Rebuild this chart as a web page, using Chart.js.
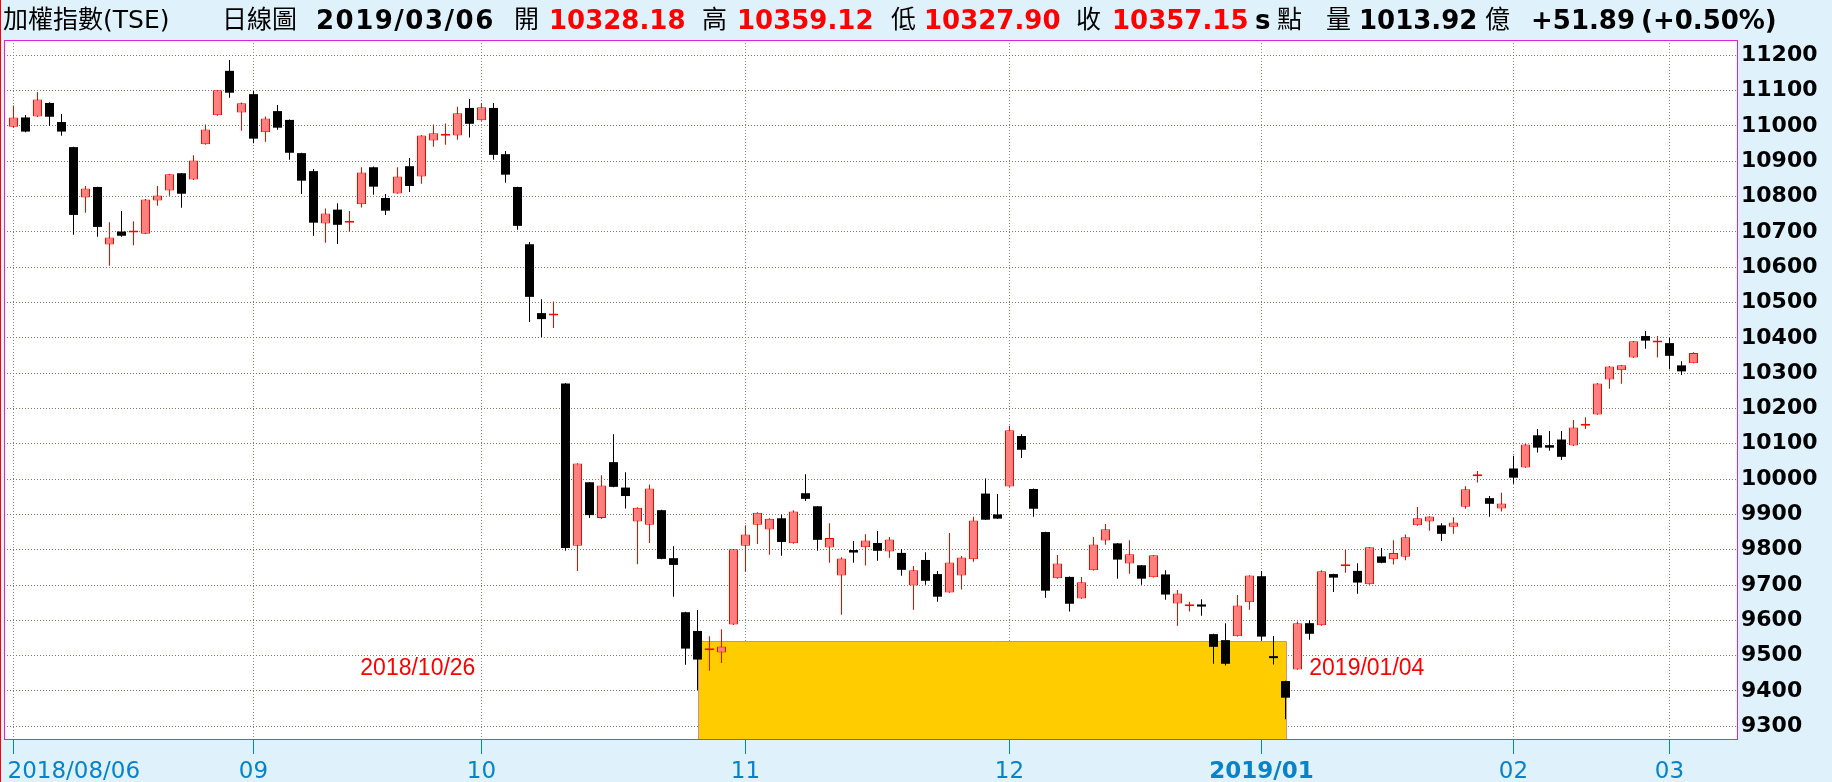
<!DOCTYPE html>
<html>
<head>
<meta charset="utf-8">
<script src="https://cdn.jsdelivr.net/npm/chart.js@4.4.0/dist/chart.umd.min.js"></script>
<style>
  body { margin: 0; background: #dff1fb; width: 1832px; height: 782px; overflow: hidden; position: relative; }
  #chart-container { position: absolute; left: 0; top: 0; }
  #redline { position: absolute; left: 0; top: 0; width: 1px; height: 782px; background: #ff0000; }
  .hd { position: absolute; top: 0; line-height: 40px; white-space: nowrap; color: #000;
        font-family: "DejaVu Sans", "Noto Sans CJK TC", sans-serif; }
  .cj { font-size: 25px; }
  .num { font-size: 26px; font-weight: bold; }
  .red { color: #ff0000; }
</style>
</head>
<body>
<div id="chart-container"><canvas id="myChart" width="1832" height="782"></canvas></div>
<div id="redline"></div>
<div id="header">
  <span class="hd cj" style="left:3px">加權指數(TSE)</span>
  <span class="hd cj" style="left:222px">日線圖</span>
  <span class="hd num" style="left:316px; letter-spacing:1.5px">2019/03/06</span>
  <span class="hd cj" style="left:514px">開</span>
  <span class="hd num red" style="left:549px">10328.18</span>
  <span class="hd cj" style="left:702px">高</span>
  <span class="hd num red" style="left:737px">10359.12</span>
  <span class="hd cj" style="left:891px">低</span>
  <span class="hd num red" style="left:924px">10327.90</span>
  <span class="hd cj" style="left:1076px">收</span>
  <span class="hd num red" style="left:1112px">10357.15</span>
  <span class="hd num" style="left:1255px">s</span>
  <span class="hd cj" style="left:1277px">點</span>
  <span class="hd cj" style="left:1326px">量</span>
  <span class="hd num" style="left:1359px">1013.92</span>
  <span class="hd cj" style="left:1485px">億</span>
  <span class="hd num" style="left:1531px">+51.89</span>
  <span class="hd num" style="left:1641px">(+0.50%)</span>
</div>

<script>
// trading days shown on the chart
const dates = [
  '2018/08/06','2018/08/07','2018/08/08','2018/08/09','2018/08/10','2018/08/13','2018/08/14','2018/08/15','2018/08/16','2018/08/17',
  '2018/08/20','2018/08/21','2018/08/22','2018/08/23','2018/08/24','2018/08/27','2018/08/28','2018/08/29','2018/08/30','2018/08/31',
  '2018/09/03','2018/09/04','2018/09/05','2018/09/06','2018/09/07','2018/09/10','2018/09/11','2018/09/12','2018/09/13','2018/09/14',
  '2018/09/17','2018/09/18','2018/09/19','2018/09/20','2018/09/21','2018/09/25','2018/09/26','2018/09/27','2018/09/28',
  '2018/10/01','2018/10/02','2018/10/03','2018/10/04','2018/10/05','2018/10/08','2018/10/09','2018/10/11','2018/10/12',
  '2018/10/15','2018/10/16','2018/10/17','2018/10/18','2018/10/19','2018/10/22','2018/10/23','2018/10/24','2018/10/25','2018/10/26',
  '2018/10/29','2018/10/30','2018/10/31',
  '2018/11/01','2018/11/02','2018/11/05','2018/11/06','2018/11/07','2018/11/08','2018/11/09','2018/11/12','2018/11/13','2018/11/14',
  '2018/11/15','2018/11/16','2018/11/19','2018/11/20','2018/11/21','2018/11/22','2018/11/23','2018/11/26','2018/11/27','2018/11/28',
  '2018/11/29','2018/11/30',
  '2018/12/03','2018/12/04','2018/12/05','2018/12/06','2018/12/07','2018/12/10','2018/12/11','2018/12/12','2018/12/13','2018/12/14',
  '2018/12/17','2018/12/18','2018/12/19','2018/12/20','2018/12/21','2018/12/22','2018/12/24','2018/12/25','2018/12/26','2018/12/27',
  '2018/12/28',
  '2019/01/02','2019/01/03','2019/01/04','2019/01/07','2019/01/08','2019/01/09','2019/01/10','2019/01/11','2019/01/14','2019/01/15',
  '2019/01/16','2019/01/17','2019/01/18','2019/01/21','2019/01/22','2019/01/23','2019/01/24','2019/01/25','2019/01/28','2019/01/29',
  '2019/01/30',
  '2019/02/11','2019/02/12','2019/02/13','2019/02/14','2019/02/15','2019/02/18','2019/02/19','2019/02/20','2019/02/21','2019/02/22',
  '2019/02/25','2019/02/26','2019/02/27',
  '2019/03/04','2019/03/05','2019/03/06'
];

const opens = [
  10998, 11024, 11027, 11065, 11011, 10940, 10797, 10827, 10664, 10701, 10698, 10695, 10789, 10817, 10866, 10848, 10948, 11030, 11156, 11038,
  11090, 10982, 11042, 11017, 10923, 10872, 10724, 10763, 10726, 10778, 10883, 10796, 10809, 10886, 10857, 10959, 10972, 10973, 11051,
  11016, 11051, 10920, 10827, 10665, 10470, 10463, 10271, 9811, 9991, 9890, 10048, 9976, 9880, 9871, 9912, 9776, 9623, 9570, 9515, 9509, 9588,
  9811, 9871, 9857, 9889, 9818, 9960, 9923, 9806, 9727, 9799, 9807, 9819, 9795, 9791, 9699, 9771, 9731, 9679, 9727, 9773, 9959, 9900,
  9979, 10122, 9972, 9850, 9719, 9723, 9662, 9742, 9826, 9818, 9761, 9756, 9722, 9730, 9648, 9640, 9645, 9561, 9544, 9555, 9651,
  9725, 9494, 9428, 9461, 9592, 9586, 9731, 9753, 9740, 9702, 9781, 9773, 9780, 9869, 9880, 9869, 9865, 9922, 10008, 9946, 9917,
  10030, 10033, 10124, 10096, 10112, 10095, 10151, 10183, 10282, 10308, 10344, 10405, 10387,
  10385, 10322, 10328.18
];
const highs = [
  11058, 11031, 11096, 11067, 11034, 10941, 10830, 10828, 10727, 10759, 10730, 10793, 10830, 10864, 10867, 10917, 11004, 11102, 11187, 11066,
  11099, 11027, 11059, 11018, 10924, 10878, 10766, 10781, 10759, 10883, 10885, 10807, 10883, 10909, 10974, 11004, 11007, 11054, 11076,
  11064, 11065, 10929, 10828, 10671, 10509, 10503, 10272, 10045, 9992, 10011, 10127, 10019, 9920, 9985, 9913, 9810, 9624, 9629, 9555, 9575, 9802,
  9869, 9906, 9889, 9900, 9912, 10014, 9924, 9875, 9779, 9825, 9844, 9853, 9836, 9802, 9754, 9793, 9740, 9847, 9782, 9893, 10002, 9958,
  10151, 10127, 9973, 9851, 9785, 9724, 9723, 9836, 9873, 9819, 9827, 9757, 9785, 9742, 9686, 9653, 9660, 9562, 9592, 9672, 9728,
  9740, 9556, 9429, 9597, 9601, 9742, 9732, 9799, 9762, 9808, 9805, 9827, 9843, 9921, 9895, 9875, 9892, 9980, 10023, 9952, 9961,
  10066, 10099, 10142, 10136, 10136, 10167, 10175, 10272, 10320, 10323, 10391, 10419, 10405,
  10401, 10334, 10359.12
];
const lows = [
  10995, 10982, 11025, 11000, 10972, 10692, 10754, 10686, 10604, 10686, 10662, 10694, 10774, 10802, 10768, 10847, 10947, 11029, 11080, 10986,
  10951, 10955, 10989, 10904, 10807, 10689, 10669, 10666, 10700, 10769, 10805, 10748, 10808, 10813, 10836, 10941, 10947, 10961, 10967,
  11015, 10904, 10839, 10706, 10445, 10402, 10428, 9797, 9740, 9890, 9887, 9977, 9917, 9759, 9819, 9773, 9667, 9474, 9403, 9457, 9479, 9587,
  9737, 9816, 9786, 9783, 9817, 9938, 9797, 9763, 9616, 9763, 9755, 9769, 9777, 9726, 9630, 9701, 9653, 9678, 9687, 9766, 9884, 9887,
  9978, 10060, 9893, 9664, 9718, 9625, 9661, 9741, 9814, 9718, 9732, 9701, 9721, 9658, 9585, 9625, 9613, 9477, 9472, 9554, 9630,
  9542, 9475, 9320, 9460, 9545, 9585, 9680, 9735, 9675, 9701, 9762, 9758, 9770, 9868, 9854, 9825, 9845, 9916, 9990, 9893, 9908,
  9987, 10032, 10075, 10080, 10054, 10094, 10142, 10182, 10256, 10270, 10343, 10369, 10344,
  10311, 10295, 10327.90
];
const closes = [
  11024, 10984, 11075, 11026, 10984, 10748, 10823, 10714, 10684, 10689, 10699, 10792, 10803, 10863, 10808, 10902, 10990, 11101, 11094, 11064,
  10964, 11021, 10995, 10924, 10845, 10726, 10752, 10720, 10727, 10868, 10828, 10760, 10857, 10830, 10973, 10979, 10974, 11036, 11006,
  11053, 10918, 10862, 10717, 10516, 10453, 10465, 9805, 10044, 9898, 9982, 9978, 9952, 9919, 9973, 9774, 9757, 9520, 9489, 9516, 9526, 9801,
  9843, 9905, 9888, 9822, 9908, 9944, 9828, 9833, 9775, 9792, 9826, 9797, 9829, 9743, 9742, 9712, 9667, 9764, 9778, 9883, 9885, 9888,
  10138, 10083, 9916, 9684, 9761, 9647, 9708, 9815, 9858, 9772, 9787, 9718, 9784, 9673, 9676, 9645, 9639, 9525, 9477, 9642, 9727,
  9554, 9493, 9381, 9592, 9562, 9739, 9721, 9759, 9707, 9807, 9763, 9791, 9835, 9889, 9894, 9845, 9877, 9971, 10013, 9930, 9931,
  10004, 10098, 10089, 10089, 10063, 10146, 10152, 10271, 10319, 10322, 10390, 10392, 10388,
  10349, 10305, 10357.15
];

const yTicks = [9300, 9400, 9500, 9600, 9700, 9800, 9900, 10000, 10100, 10200, 10300, 10400, 10500, 10600, 10700, 10800, 10900, 11000, 11100, 11200];
const xTickIdx = [0, 20, 39, 61, 83, 104, 125, 138];
const xTickLabels = ['2018/08/06', '09', '10', '11', '12', '2019/01', '02', '03'];

// highlighted range 2018/10/26 .. 2019/01/04
const rangeIdx = [57, 106];
const rangeTop = 9542;
const rangeLabels = ['2018/10/26', '2019/01/04'];

// where the two range labels sit (index, value)
const rangeLabelPos = [{ x: 28.9, y: 9445 }, { x: 107.98, y: 9445 }];

const up = closes.map((c, i) => c >= opens[i]);
const bodies = opens.map((o, i) => ({ x: i, y: [o, closes[i]] }));
const wicks = lows.map((l, i) => ({ x: i, y: [l, highs[i]] }));

const extras = {
    id: 'extras',
    beforeDraw(chart) {
        const a = chart.chartArea;
        const ctx = chart.ctx;
        ctx.save();
        ctx.fillStyle = '#ffffff';
        ctx.fillRect(a.left, a.top, a.right - a.left, a.bottom - a.top);
        ctx.restore();
    },
    beforeDatasetsDraw(chart) {
        const xs = chart.scales.x, ys = chart.scales.y, a = chart.chartArea;
        const ctx = chart.ctx;
        const x1 = Math.round(xs.getPixelForValue(rangeIdx[0])) + 0.5;
        const x2 = Math.round(xs.getPixelForValue(rangeIdx[1])) + 0.5;
        const y1 = Math.round(ys.getPixelForValue(rangeTop)) + 0.5;
        ctx.save();
        ctx.fillStyle = '#ffcc00';
        ctx.fillRect(x1, y1, x2 - x1, a.bottom - y1);
        ctx.strokeStyle = '#cc9090';
        ctx.lineWidth = 1;
        ctx.beginPath();
        ctx.moveTo(x1, a.bottom);
        ctx.lineTo(x1, y1);
        ctx.lineTo(x2, y1);
        ctx.lineTo(x2, a.bottom);
        ctx.stroke();
        ctx.restore();
    },
    afterDraw(chart) {
        const xs = chart.scales.x, ys = chart.scales.y, a = chart.chartArea;
        const ctx = chart.ctx;
        ctx.save();
        // plot frame
        ctx.strokeStyle = '#e020e0';
        ctx.lineWidth = 1;
        ctx.strokeRect(a.left + 0.5, a.top + 0.5, a.right - a.left - 1, a.bottom - a.top - 1);

        // x axis labels
        ctx.fillStyle = '#0882c8';
        ctx.textBaseline = 'alphabetic';
        xTickIdx.forEach((v, k) => {
            const px = xs.getPixelForValue(v);
            const isYear = k > 0 && xTickLabels[k].indexOf('/') > 0;
            ctx.font = (isYear ? 'bold ' : '') + '23px "DejaVu Sans"';
            ctx.textAlign = k === 0 ? 'left' : 'center';
            ctx.fillText(xTickLabels[k], k === 0 ? px - 6 : px, 778);
        });

        // range labels
        ctx.fillStyle = '#ff0000';
        ctx.font = '23px "Liberation Sans"';
        ctx.textAlign = 'left';
        rangeLabels.forEach((t, k) => {
            ctx.fillText(t, xs.getPixelForValue(rangeLabelPos[k].x), ys.getPixelForValue(rangeLabelPos[k].y));
        });
        ctx.restore();
    }
};

const data = {
    datasets: [{
        label: 'body',
        data: bodies,
        grouped: false,
        barThickness: 9,
        minBarLength: 2,
        inflateAmount: 0,
        borderSkipped: false,
        backgroundColor: up.map(u => u ? '#ff8080' : '#000000'),
        borderColor: up.map(u => u ? '#ff0000' : '#000000'),
        borderWidth: up.map(u => u ? 1 : 0),
        order: 0
    }, {
        label: 'wick',
        data: wicks,
        grouped: false,
        barThickness: 1,
        inflateAmount: 0,
        borderWidth: 0,
        backgroundColor: up.map(u => u ? '#ff0000' : '#000000'),
        order: 1
    }]
};

const config = {
    type: 'bar',
    data: data,
    plugins: [extras],
    options: {
        responsive: false,
        animation: false,
        devicePixelRatio: 1,
        events: [],
        layout: { padding: { left: 4, top: 40, right: 0, bottom: 0 } },
        scales: {
            x: {
                type: 'linear',
                offset: false,
                min: -0.7917,
                max: 143.7083,
                afterBuildTicks: (scale) => { scale.ticks = xTickIdx.map(v => ({ value: v })); },
                afterFit: (scale) => { scale.height = 42; },
                ticks: { display: false, autoSkip: false },
                grid: {
                    offset: false,
                    color: '#8a8a80',
                    lineWidth: 1,
                    drawTicks: true,
                    tickLength: 14,
                    tickColor: '#0882c8',
                    tickWidth: 1,
                    tickBorderDash: []
                },
                border: { display: false, dash: [1, 2] }
            },
            y: {
                type: 'linear',
                position: 'right',
                min: 9261.2,
                max: 11243.3,
                afterBuildTicks: (scale) => { scale.ticks = yTicks.map(v => ({ value: v })); },
                afterFit: (scale) => { scale.width = 94; },
                ticks: {
                    autoSkip: false,
                    padding: 3,
                    color: '#000000',
                    font: { family: 'DejaVu Sans', size: 22, weight: 'bold' },
                    callback: (v) => String(v)
                },
                grid: { color: '#7a7a68', lineWidth: 1, drawTicks: false },
                border: { display: false, dash: [1, 2] }
            }
        },
        plugins: {
            legend: { display: false },
            tooltip: { enabled: false }
        }
    }
};

const myChart = new Chart(
    document.getElementById('myChart'),
    config
);
</script>
</body>
</html>
